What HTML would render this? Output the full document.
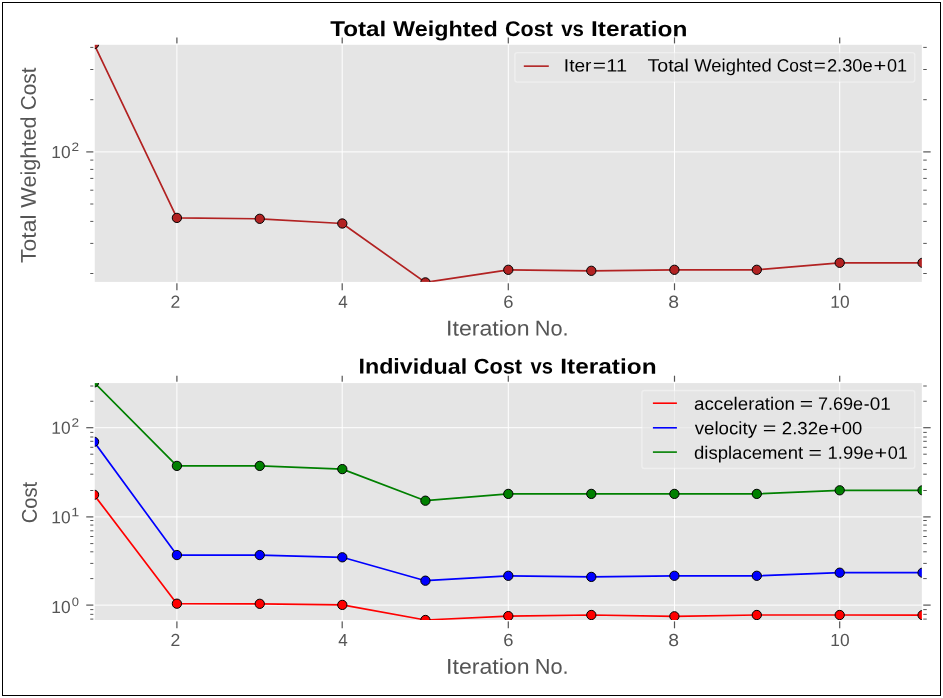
<!DOCTYPE html>
<html><head><meta charset="utf-8"><title>Cost vs Iteration</title>
<style>
html,body{margin:0;padding:0;background:#fff;}
body{width:943px;height:698px;overflow:hidden;}
svg{display:block;font-family:"Liberation Sans",sans-serif;}
text{white-space:pre;}
</style></head><body>
<svg width="943" height="698" viewBox="0 0 943 698">
<rect x="0" y="0" width="943" height="698" fill="#fff"/>
<rect x="2.5" y="2.5" width="938" height="693" fill="none" stroke="#000" stroke-width="1"/>
<rect x="94.05" y="44.1" width="828.50" height="238.50" fill="#e5e5e5"/>
<line x1="176.9" y1="44.1" x2="176.9" y2="282.6" stroke="#fff" stroke-width="1.0"/>
<line x1="342.2" y1="44.1" x2="342.2" y2="282.6" stroke="#fff" stroke-width="1.0"/>
<line x1="508.3" y1="44.1" x2="508.3" y2="282.6" stroke="#fff" stroke-width="1.0"/>
<line x1="674.5" y1="44.1" x2="674.5" y2="282.6" stroke="#fff" stroke-width="1.0"/>
<line x1="839.7" y1="44.1" x2="839.7" y2="282.6" stroke="#fff" stroke-width="1.0"/>
<line x1="94.05" y1="151.9" x2="922.55" y2="151.9" stroke="#fff" stroke-width="1.0"/>
<clipPath id="c1"><rect x="94.05" y="44.1" width="828.50" height="238.50"/></clipPath>
<g clip-path="url(#c1)">
<polyline points="94.05,44.10 176.90,217.90 259.75,218.80 342.30,223.50 425.40,282.40 508.30,269.80 591.30,270.80 674.40,269.80 756.80,269.80 839.70,262.80 922.55,262.80" fill="none" stroke="#b22222" stroke-width="1.7" stroke-linejoin="round"/>
<circle cx="94.05" cy="44.10" r="4.65" fill="#b22222" stroke="#000" stroke-width="1"/>
<circle cx="176.90" cy="217.90" r="4.65" fill="#b22222" stroke="#000" stroke-width="1"/>
<circle cx="259.75" cy="218.80" r="4.65" fill="#b22222" stroke="#000" stroke-width="1"/>
<circle cx="342.30" cy="223.50" r="4.65" fill="#b22222" stroke="#000" stroke-width="1"/>
<circle cx="425.40" cy="282.40" r="4.65" fill="#b22222" stroke="#000" stroke-width="1"/>
<circle cx="508.30" cy="269.80" r="4.65" fill="#b22222" stroke="#000" stroke-width="1"/>
<circle cx="591.30" cy="270.80" r="4.65" fill="#b22222" stroke="#000" stroke-width="1"/>
<circle cx="674.40" cy="269.80" r="4.65" fill="#b22222" stroke="#000" stroke-width="1"/>
<circle cx="756.80" cy="269.80" r="4.65" fill="#b22222" stroke="#000" stroke-width="1"/>
<circle cx="839.70" cy="262.80" r="4.65" fill="#b22222" stroke="#000" stroke-width="1"/>
<circle cx="922.55" cy="262.80" r="4.65" fill="#b22222" stroke="#000" stroke-width="1"/>
</g>
<line x1="176.9" y1="282.6" x2="176.9" y2="290.20000000000005" stroke="#555555" stroke-width="1.2"/>
<line x1="176.9" y1="44.1" x2="176.9" y2="37.4" stroke="#555555" stroke-width="1.2"/>
<line x1="342.2" y1="282.6" x2="342.2" y2="290.20000000000005" stroke="#555555" stroke-width="1.2"/>
<line x1="342.2" y1="44.1" x2="342.2" y2="37.4" stroke="#555555" stroke-width="1.2"/>
<line x1="508.3" y1="282.6" x2="508.3" y2="290.20000000000005" stroke="#555555" stroke-width="1.2"/>
<line x1="508.3" y1="44.1" x2="508.3" y2="37.4" stroke="#555555" stroke-width="1.2"/>
<line x1="674.5" y1="282.6" x2="674.5" y2="290.20000000000005" stroke="#555555" stroke-width="1.2"/>
<line x1="674.5" y1="44.1" x2="674.5" y2="37.4" stroke="#555555" stroke-width="1.2"/>
<line x1="839.7" y1="282.6" x2="839.7" y2="290.20000000000005" stroke="#555555" stroke-width="1.2"/>
<line x1="839.7" y1="44.1" x2="839.7" y2="37.4" stroke="#555555" stroke-width="1.2"/>
<line x1="94.05" y1="151.9" x2="86.25" y2="151.9" stroke="#555555" stroke-width="1.2"/>
<line x1="922.55" y1="151.9" x2="930.65" y2="151.9" stroke="#555555" stroke-width="1.2"/>
<line x1="94.05" y1="47.40" x2="90.25" y2="47.40" stroke="#555555" stroke-width="1.0"/>
<line x1="922.55" y1="47.40" x2="926.7499999999999" y2="47.40" stroke="#555555" stroke-width="1.0"/>
<line x1="94.05" y1="69.50" x2="90.25" y2="69.50" stroke="#555555" stroke-width="1.0"/>
<line x1="922.55" y1="69.50" x2="926.7499999999999" y2="69.50" stroke="#555555" stroke-width="1.0"/>
<line x1="94.05" y1="99.70" x2="90.25" y2="99.70" stroke="#555555" stroke-width="1.0"/>
<line x1="922.55" y1="99.70" x2="926.7499999999999" y2="99.70" stroke="#555555" stroke-width="1.0"/>
<line x1="94.05" y1="160.10" x2="90.25" y2="160.10" stroke="#555555" stroke-width="1.0"/>
<line x1="922.55" y1="160.10" x2="926.7499999999999" y2="160.10" stroke="#555555" stroke-width="1.0"/>
<line x1="94.05" y1="169.40" x2="90.25" y2="169.40" stroke="#555555" stroke-width="1.0"/>
<line x1="922.55" y1="169.40" x2="926.7499999999999" y2="169.40" stroke="#555555" stroke-width="1.0"/>
<line x1="94.05" y1="178.40" x2="90.25" y2="178.40" stroke="#555555" stroke-width="1.0"/>
<line x1="922.55" y1="178.40" x2="926.7499999999999" y2="178.40" stroke="#555555" stroke-width="1.0"/>
<line x1="94.05" y1="190.20" x2="90.25" y2="190.20" stroke="#555555" stroke-width="1.0"/>
<line x1="922.55" y1="190.20" x2="926.7499999999999" y2="190.20" stroke="#555555" stroke-width="1.0"/>
<line x1="94.05" y1="204.00" x2="90.25" y2="204.00" stroke="#555555" stroke-width="1.0"/>
<line x1="922.55" y1="204.00" x2="926.7499999999999" y2="204.00" stroke="#555555" stroke-width="1.0"/>
<line x1="94.05" y1="221.40" x2="90.25" y2="221.40" stroke="#555555" stroke-width="1.0"/>
<line x1="922.55" y1="221.40" x2="926.7499999999999" y2="221.40" stroke="#555555" stroke-width="1.0"/>
<line x1="94.05" y1="243.40" x2="90.25" y2="243.40" stroke="#555555" stroke-width="1.0"/>
<line x1="922.55" y1="243.40" x2="926.7499999999999" y2="243.40" stroke="#555555" stroke-width="1.0"/>
<line x1="94.05" y1="273.50" x2="90.25" y2="273.50" stroke="#555555" stroke-width="1.0"/>
<line x1="922.55" y1="273.50" x2="926.7499999999999" y2="273.50" stroke="#555555" stroke-width="1.0"/>
<rect x="94.05" y="44.1" width="828.50" height="238.50" fill="none" stroke="#fff" stroke-width="1.4"/>
<rect x="94.05" y="382.4" width="828.50" height="238.30" fill="#e5e5e5"/>
<line x1="176.9" y1="382.4" x2="176.9" y2="620.7" stroke="#fff" stroke-width="1.0"/>
<line x1="342.2" y1="382.4" x2="342.2" y2="620.7" stroke="#fff" stroke-width="1.0"/>
<line x1="508.3" y1="382.4" x2="508.3" y2="620.7" stroke="#fff" stroke-width="1.0"/>
<line x1="674.5" y1="382.4" x2="674.5" y2="620.7" stroke="#fff" stroke-width="1.0"/>
<line x1="839.7" y1="382.4" x2="839.7" y2="620.7" stroke="#fff" stroke-width="1.0"/>
<line x1="94.05" y1="427.7" x2="922.55" y2="427.7" stroke="#fff" stroke-width="1.0"/>
<line x1="94.05" y1="516.9" x2="922.55" y2="516.9" stroke="#fff" stroke-width="1.0"/>
<line x1="94.05" y1="605.1" x2="922.55" y2="605.1" stroke="#fff" stroke-width="1.0"/>
<clipPath id="c2"><rect x="94.05" y="382.4" width="828.50" height="238.30"/></clipPath>
<g clip-path="url(#c2)">
<polyline points="94.05,494.80 176.90,603.70 259.75,603.80 342.30,604.90 425.40,620.00 508.30,616.10 591.30,615.00 674.40,616.30 756.80,615.00 839.70,615.00 922.55,615.10" fill="none" stroke="#ff0000" stroke-width="1.7" stroke-linejoin="round"/>
<circle cx="94.05" cy="494.80" r="4.65" fill="#ff0000" stroke="#000" stroke-width="1"/>
<circle cx="176.90" cy="603.70" r="4.65" fill="#ff0000" stroke="#000" stroke-width="1"/>
<circle cx="259.75" cy="603.80" r="4.65" fill="#ff0000" stroke="#000" stroke-width="1"/>
<circle cx="342.30" cy="604.90" r="4.65" fill="#ff0000" stroke="#000" stroke-width="1"/>
<circle cx="425.40" cy="620.00" r="4.65" fill="#ff0000" stroke="#000" stroke-width="1"/>
<circle cx="508.30" cy="616.10" r="4.65" fill="#ff0000" stroke="#000" stroke-width="1"/>
<circle cx="591.30" cy="615.00" r="4.65" fill="#ff0000" stroke="#000" stroke-width="1"/>
<circle cx="674.40" cy="616.30" r="4.65" fill="#ff0000" stroke="#000" stroke-width="1"/>
<circle cx="756.80" cy="615.00" r="4.65" fill="#ff0000" stroke="#000" stroke-width="1"/>
<circle cx="839.70" cy="615.00" r="4.65" fill="#ff0000" stroke="#000" stroke-width="1"/>
<circle cx="922.55" cy="615.10" r="4.65" fill="#ff0000" stroke="#000" stroke-width="1"/>
<polyline points="94.05,441.80 176.90,555.05 259.75,555.05 342.30,557.30 425.40,580.70 508.30,575.80 591.30,576.90 674.40,575.80 756.80,575.80 839.70,572.70 922.55,572.70" fill="none" stroke="#0000ff" stroke-width="1.7" stroke-linejoin="round"/>
<circle cx="94.05" cy="441.80" r="4.65" fill="#0000ff" stroke="#000" stroke-width="1"/>
<circle cx="176.90" cy="555.05" r="4.65" fill="#0000ff" stroke="#000" stroke-width="1"/>
<circle cx="259.75" cy="555.05" r="4.65" fill="#0000ff" stroke="#000" stroke-width="1"/>
<circle cx="342.30" cy="557.30" r="4.65" fill="#0000ff" stroke="#000" stroke-width="1"/>
<circle cx="425.40" cy="580.70" r="4.65" fill="#0000ff" stroke="#000" stroke-width="1"/>
<circle cx="508.30" cy="575.80" r="4.65" fill="#0000ff" stroke="#000" stroke-width="1"/>
<circle cx="591.30" cy="576.90" r="4.65" fill="#0000ff" stroke="#000" stroke-width="1"/>
<circle cx="674.40" cy="575.80" r="4.65" fill="#0000ff" stroke="#000" stroke-width="1"/>
<circle cx="756.80" cy="575.80" r="4.65" fill="#0000ff" stroke="#000" stroke-width="1"/>
<circle cx="839.70" cy="572.70" r="4.65" fill="#0000ff" stroke="#000" stroke-width="1"/>
<circle cx="922.55" cy="572.70" r="4.65" fill="#0000ff" stroke="#000" stroke-width="1"/>
<polyline points="94.05,382.40 176.90,465.90 259.75,465.90 342.30,469.10 425.40,500.70 508.30,493.90 591.30,493.90 674.40,493.90 756.80,493.90 839.70,490.30 922.55,490.30" fill="none" stroke="#008000" stroke-width="1.7" stroke-linejoin="round"/>
<circle cx="94.05" cy="382.40" r="4.65" fill="#008000" stroke="#000" stroke-width="1"/>
<circle cx="176.90" cy="465.90" r="4.65" fill="#008000" stroke="#000" stroke-width="1"/>
<circle cx="259.75" cy="465.90" r="4.65" fill="#008000" stroke="#000" stroke-width="1"/>
<circle cx="342.30" cy="469.10" r="4.65" fill="#008000" stroke="#000" stroke-width="1"/>
<circle cx="425.40" cy="500.70" r="4.65" fill="#008000" stroke="#000" stroke-width="1"/>
<circle cx="508.30" cy="493.90" r="4.65" fill="#008000" stroke="#000" stroke-width="1"/>
<circle cx="591.30" cy="493.90" r="4.65" fill="#008000" stroke="#000" stroke-width="1"/>
<circle cx="674.40" cy="493.90" r="4.65" fill="#008000" stroke="#000" stroke-width="1"/>
<circle cx="756.80" cy="493.90" r="4.65" fill="#008000" stroke="#000" stroke-width="1"/>
<circle cx="839.70" cy="490.30" r="4.65" fill="#008000" stroke="#000" stroke-width="1"/>
<circle cx="922.55" cy="490.30" r="4.65" fill="#008000" stroke="#000" stroke-width="1"/>
</g>
<line x1="176.9" y1="620.7" x2="176.9" y2="628.3000000000001" stroke="#555555" stroke-width="1.2"/>
<line x1="176.9" y1="382.4" x2="176.9" y2="375.69999999999993" stroke="#555555" stroke-width="1.2"/>
<line x1="342.2" y1="620.7" x2="342.2" y2="628.3000000000001" stroke="#555555" stroke-width="1.2"/>
<line x1="342.2" y1="382.4" x2="342.2" y2="375.69999999999993" stroke="#555555" stroke-width="1.2"/>
<line x1="508.3" y1="620.7" x2="508.3" y2="628.3000000000001" stroke="#555555" stroke-width="1.2"/>
<line x1="508.3" y1="382.4" x2="508.3" y2="375.69999999999993" stroke="#555555" stroke-width="1.2"/>
<line x1="674.5" y1="620.7" x2="674.5" y2="628.3000000000001" stroke="#555555" stroke-width="1.2"/>
<line x1="674.5" y1="382.4" x2="674.5" y2="375.69999999999993" stroke="#555555" stroke-width="1.2"/>
<line x1="839.7" y1="620.7" x2="839.7" y2="628.3000000000001" stroke="#555555" stroke-width="1.2"/>
<line x1="839.7" y1="382.4" x2="839.7" y2="375.69999999999993" stroke="#555555" stroke-width="1.2"/>
<line x1="94.05" y1="427.7" x2="86.25" y2="427.7" stroke="#555555" stroke-width="1.2"/>
<line x1="922.55" y1="427.7" x2="930.65" y2="427.7" stroke="#555555" stroke-width="1.2"/>
<line x1="94.05" y1="516.9" x2="86.25" y2="516.9" stroke="#555555" stroke-width="1.2"/>
<line x1="922.55" y1="516.9" x2="930.65" y2="516.9" stroke="#555555" stroke-width="1.2"/>
<line x1="94.05" y1="605.1" x2="86.25" y2="605.1" stroke="#555555" stroke-width="1.2"/>
<line x1="922.55" y1="605.1" x2="930.65" y2="605.1" stroke="#555555" stroke-width="1.2"/>
<line x1="94.05" y1="386.00" x2="90.25" y2="386.00" stroke="#555555" stroke-width="1.0"/>
<line x1="922.55" y1="386.00" x2="926.7499999999999" y2="386.00" stroke="#555555" stroke-width="1.0"/>
<line x1="94.05" y1="401.25" x2="90.25" y2="401.25" stroke="#555555" stroke-width="1.0"/>
<line x1="922.55" y1="401.25" x2="926.7499999999999" y2="401.25" stroke="#555555" stroke-width="1.0"/>
<line x1="94.05" y1="432.40" x2="90.25" y2="432.40" stroke="#555555" stroke-width="1.0"/>
<line x1="922.55" y1="432.40" x2="926.7499999999999" y2="432.40" stroke="#555555" stroke-width="1.0"/>
<line x1="94.05" y1="437.00" x2="90.25" y2="437.00" stroke="#555555" stroke-width="1.0"/>
<line x1="922.55" y1="437.00" x2="926.7499999999999" y2="437.00" stroke="#555555" stroke-width="1.0"/>
<line x1="94.05" y1="441.30" x2="90.25" y2="441.30" stroke="#555555" stroke-width="1.0"/>
<line x1="922.55" y1="441.30" x2="926.7499999999999" y2="441.30" stroke="#555555" stroke-width="1.0"/>
<line x1="94.05" y1="447.30" x2="90.25" y2="447.30" stroke="#555555" stroke-width="1.0"/>
<line x1="922.55" y1="447.30" x2="926.7499999999999" y2="447.30" stroke="#555555" stroke-width="1.0"/>
<line x1="94.05" y1="454.20" x2="90.25" y2="454.20" stroke="#555555" stroke-width="1.0"/>
<line x1="922.55" y1="454.20" x2="926.7499999999999" y2="454.20" stroke="#555555" stroke-width="1.0"/>
<line x1="94.05" y1="463.60" x2="90.25" y2="463.60" stroke="#555555" stroke-width="1.0"/>
<line x1="922.55" y1="463.60" x2="926.7499999999999" y2="463.60" stroke="#555555" stroke-width="1.0"/>
<line x1="94.05" y1="474.20" x2="90.25" y2="474.20" stroke="#555555" stroke-width="1.0"/>
<line x1="922.55" y1="474.20" x2="926.7499999999999" y2="474.20" stroke="#555555" stroke-width="1.0"/>
<line x1="94.05" y1="490.50" x2="90.25" y2="490.50" stroke="#555555" stroke-width="1.0"/>
<line x1="922.55" y1="490.50" x2="926.7499999999999" y2="490.50" stroke="#555555" stroke-width="1.0"/>
<line x1="94.05" y1="520.50" x2="90.25" y2="520.50" stroke="#555555" stroke-width="1.0"/>
<line x1="922.55" y1="520.50" x2="926.7499999999999" y2="520.50" stroke="#555555" stroke-width="1.0"/>
<line x1="94.05" y1="525.10" x2="90.25" y2="525.10" stroke="#555555" stroke-width="1.0"/>
<line x1="922.55" y1="525.10" x2="926.7499999999999" y2="525.10" stroke="#555555" stroke-width="1.0"/>
<line x1="94.05" y1="530.80" x2="90.25" y2="530.80" stroke="#555555" stroke-width="1.0"/>
<line x1="922.55" y1="530.80" x2="926.7499999999999" y2="530.80" stroke="#555555" stroke-width="1.0"/>
<line x1="94.05" y1="536.50" x2="90.25" y2="536.50" stroke="#555555" stroke-width="1.0"/>
<line x1="922.55" y1="536.50" x2="926.7499999999999" y2="536.50" stroke="#555555" stroke-width="1.0"/>
<line x1="94.05" y1="543.60" x2="90.25" y2="543.60" stroke="#555555" stroke-width="1.0"/>
<line x1="922.55" y1="543.60" x2="926.7499999999999" y2="543.60" stroke="#555555" stroke-width="1.0"/>
<line x1="94.05" y1="551.80" x2="90.25" y2="551.80" stroke="#555555" stroke-width="1.0"/>
<line x1="922.55" y1="551.80" x2="926.7499999999999" y2="551.80" stroke="#555555" stroke-width="1.0"/>
<line x1="94.05" y1="563.40" x2="90.25" y2="563.40" stroke="#555555" stroke-width="1.0"/>
<line x1="922.55" y1="563.40" x2="926.7499999999999" y2="563.40" stroke="#555555" stroke-width="1.0"/>
<line x1="94.05" y1="578.60" x2="90.25" y2="578.60" stroke="#555555" stroke-width="1.0"/>
<line x1="922.55" y1="578.60" x2="926.7499999999999" y2="578.60" stroke="#555555" stroke-width="1.0"/>
<line x1="94.05" y1="609.60" x2="90.25" y2="609.60" stroke="#555555" stroke-width="1.0"/>
<line x1="922.55" y1="609.60" x2="926.7499999999999" y2="609.60" stroke="#555555" stroke-width="1.0"/>
<line x1="94.05" y1="614.35" x2="90.25" y2="614.35" stroke="#555555" stroke-width="1.0"/>
<line x1="922.55" y1="614.35" x2="926.7499999999999" y2="614.35" stroke="#555555" stroke-width="1.0"/>
<line x1="94.05" y1="619.10" x2="90.25" y2="619.10" stroke="#555555" stroke-width="1.0"/>
<line x1="922.55" y1="619.10" x2="926.7499999999999" y2="619.10" stroke="#555555" stroke-width="1.0"/>
<rect x="94.05" y="382.4" width="828.50" height="238.30" fill="none" stroke="#fff" stroke-width="1.4"/>
<g opacity="0.999">
<text transform="translate(330.20,36.10) rotate(0.03) scale(1.1377,1)" font-size="21.3" font-weight="bold" fill="#000">Total</text>
<text transform="translate(393.04,36.10) rotate(0.03) scale(1.0970,1)" font-size="21.3" font-weight="bold" fill="#000">Weighted</text>
<text transform="translate(504.94,36.10) rotate(0.03) scale(1.0125,1)" font-size="21.3" font-weight="bold" fill="#000">Cost</text>
<text transform="translate(561.20,36.10) rotate(0.03) scale(0.9610,1)" font-size="21.3" font-weight="bold" fill="#000">vs</text>
<text transform="translate(590.95,36.10) rotate(0.03) scale(1.1487,1)" font-size="21.3" font-weight="bold" fill="#000">Iteration</text>
<text transform="translate(358.43,373.60) rotate(0.03) scale(1.0944,1)" font-size="21.3" font-weight="bold" fill="#000">Individual</text>
<text transform="translate(473.73,373.60) rotate(0.03) scale(1.0233,1)" font-size="21.3" font-weight="bold" fill="#000">Cost</text>
<text transform="translate(530.50,373.60) rotate(0.03) scale(0.9478,1)" font-size="21.3" font-weight="bold" fill="#000">vs</text>
<text transform="translate(560.25,373.60) rotate(0.03) scale(1.1462,1)" font-size="21.3" font-weight="bold" fill="#000">Iteration</text>
<text transform="translate(446.06,335.50) rotate(0.03) scale(1.0857,1)" font-size="21.3" fill="#555555">Iteration</text>
<text transform="translate(534.70,335.50) rotate(0.03) scale(1.0222,1)" font-size="21.3" fill="#555555">No.</text>
<text transform="translate(446.06,673.80) rotate(0.03) scale(1.0857,1)" font-size="21.3" fill="#555555">Iteration</text>
<text transform="translate(534.70,673.80) rotate(0.03) scale(1.0222,1)" font-size="21.3" fill="#555555">No.</text>
<text transform="translate(35.70,262.92) rotate(-90.03) scale(1.0782,1)" font-size="21.3" fill="#555555">Total</text>
<text transform="translate(35.70,207.71) rotate(-90.03) scale(1.0190,1)" font-size="21.3" fill="#555555">Weighted</text>
<text transform="translate(35.70,110.34) rotate(-90.03) scale(0.9777,1)" font-size="21.3" fill="#555555">Cost</text>
<text transform="translate(36.80,523.31) rotate(-90.03) scale(0.9472,1)" font-size="21.3" fill="#555555">Cost</text>
<text transform="translate(170.62,307.70) rotate(0.03) scale(1.0047,1)" font-size="17.5" fill="#555555">2</text>
<text transform="translate(338.32,307.70) rotate(0.03) scale(0.9731,1)" font-size="17.5" fill="#555555">4</text>
<text transform="translate(503.18,307.70) rotate(0.03) scale(1.0502,1)" font-size="17.5" fill="#555555">6</text>
<text transform="translate(668.18,307.70) rotate(0.03) scale(1.1064,1)" font-size="17.5" fill="#555555">8</text>
<text transform="translate(830.30,307.70) rotate(0.03) scale(0.9910,1)" font-size="17.5" fill="#555555">10</text>
<text transform="translate(170.62,646.00) rotate(0.03) scale(1.0047,1)" font-size="17.5" fill="#555555">2</text>
<text transform="translate(338.32,646.00) rotate(0.03) scale(0.9731,1)" font-size="17.5" fill="#555555">4</text>
<text transform="translate(503.18,646.00) rotate(0.03) scale(1.0502,1)" font-size="17.5" fill="#555555">6</text>
<text transform="translate(668.18,646.00) rotate(0.03) scale(1.1064,1)" font-size="17.5" fill="#555555">8</text>
<text transform="translate(830.30,646.00) rotate(0.03) scale(0.9910,1)" font-size="17.5" fill="#555555">10</text>
<text transform="translate(51.30,158.00) rotate(0.03) scale(0.9910,1)" font-size="17.5" fill="#555555">10</text>
<text transform="translate(71.62,151.00) rotate(0.03) scale(1.1169,1)" font-size="12.2" fill="#555555">2</text>
<text transform="translate(51.30,433.70) rotate(0.03) scale(0.9910,1)" font-size="17.5" fill="#555555">10</text>
<text transform="translate(71.62,426.70) rotate(0.03) scale(1.1169,1)" font-size="12.2" fill="#555555">2</text>
<text transform="translate(51.30,523.30) rotate(0.03) scale(0.9910,1)" font-size="17.5" fill="#555555">10</text>
<text transform="translate(71.22,516.30) rotate(0.03) scale(1.1750,1)" font-size="12.2" fill="#555555">1</text>
<text transform="translate(51.30,612.90) rotate(0.03) scale(0.9910,1)" font-size="17.5" fill="#555555">10</text>
<text transform="translate(71.78,605.90) rotate(0.03) scale(1.0643,1)" font-size="12.2" fill="#555555">0</text>
<rect x="514.8" y="52.6" width="400.00" height="29.50" rx="2.5" ry="2.5" fill="#e5e5e5" fill-opacity="0.65" stroke="#fff" stroke-opacity="0.38" stroke-width="1.4"/>
<line x1="523.8" y1="66.15" x2="548.8" y2="66.15" stroke="#b22222" stroke-width="1.6"/>
<text transform="translate(563.83,71.50) rotate(0.03) scale(1.0753,1)" font-size="17.8" fill="#000">Iter</text>
<text transform="translate(592.67,71.50) rotate(0.03) scale(1.2742,1)" font-size="17.8" fill="#000">=</text>
<text transform="translate(606.30,71.50) rotate(0.03) scale(1.1236,1)" font-size="17.8" fill="#000">11</text>
<text transform="translate(647.46,71.50) rotate(0.03) scale(1.1028,1)" font-size="17.8" fill="#000">Total</text>
<text transform="translate(694.31,71.50) rotate(0.03) scale(1.0347,1)" font-size="17.8" fill="#000">Weighted</text>
<text transform="translate(776.83,71.50) rotate(0.03) scale(0.9731,1)" font-size="17.8" fill="#000">Cost</text>
<text transform="translate(813.77,71.50) rotate(0.03) scale(1.1583,1)" font-size="17.8" fill="#000">=</text>
<text transform="translate(826.88,71.50) rotate(0.03) scale(1.0304,1)" font-size="17.8" fill="#000">2.30e</text>
<text transform="translate(873.41,71.50) rotate(0.03) scale(1.2278,1)" font-size="17.8" fill="#000">+</text>
<text transform="translate(886.88,71.50) rotate(0.03) scale(1.0165,1)" font-size="17.8" fill="#000">01</text>
<rect x="641.9" y="390.5" width="272.90" height="78.00" rx="2.5" ry="2.5" fill="#e5e5e5" fill-opacity="0.65" stroke="#fff" stroke-opacity="0.38" stroke-width="1.4"/>
<line x1="652.9" y1="403.2" x2="676.9" y2="403.2" stroke="#ff0000" stroke-width="1.6"/>
<line x1="652.9" y1="427.8" x2="676.9" y2="427.8" stroke="#0000ff" stroke-width="1.6"/>
<line x1="652.9" y1="452.1" x2="676.9" y2="452.1" stroke="#008000" stroke-width="1.6"/>
<text transform="translate(694.00,409.80) rotate(0.03) scale(1.0529,1)" font-size="17.8" fill="#000">acceleration</text>
<text transform="translate(799.66,409.80) rotate(0.03) scale(1.2858,1)" font-size="17.8" fill="#000">=</text>
<text transform="translate(817.95,409.80) rotate(0.03) scale(1.0151,1)" font-size="17.8" fill="#000">7.69e</text>
<text transform="translate(863.82,409.80) rotate(0.03) scale(0.9730,1)" font-size="17.8" fill="#000">-</text>
<text transform="translate(869.84,409.80) rotate(0.03) scale(1.0604,1)" font-size="17.8" fill="#000">01</text>
<text transform="translate(694.71,434.20) rotate(0.03) scale(1.0502,1)" font-size="17.8" fill="#000">velocity</text>
<text transform="translate(762.64,434.20) rotate(0.03) scale(1.3089,1)" font-size="17.8" fill="#000">=</text>
<text transform="translate(781.76,434.20) rotate(0.03) scale(1.0513,1)" font-size="17.8" fill="#000">2.32e</text>
<text transform="translate(829.46,434.20) rotate(0.03) scale(1.1699,1)" font-size="17.8" fill="#000">+</text>
<text transform="translate(841.66,434.20) rotate(0.03) scale(1.0338,1)" font-size="17.8" fill="#000">00</text>
<text transform="translate(694.01,458.70) rotate(0.03) scale(1.0404,1)" font-size="17.8" fill="#000">displacement</text>
<text transform="translate(808.56,458.70) rotate(0.03) scale(1.2858,1)" font-size="17.8" fill="#000">=</text>
<text transform="translate(827.62,458.70) rotate(0.03) scale(1.0364,1)" font-size="17.8" fill="#000">1.99e</text>
<text transform="translate(874.42,458.70) rotate(0.03) scale(1.2163,1)" font-size="17.8" fill="#000">+</text>
<text transform="translate(887.68,458.70) rotate(0.03) scale(1.0165,1)" font-size="17.8" fill="#000">01</text>
</g>
</svg></body></html>
